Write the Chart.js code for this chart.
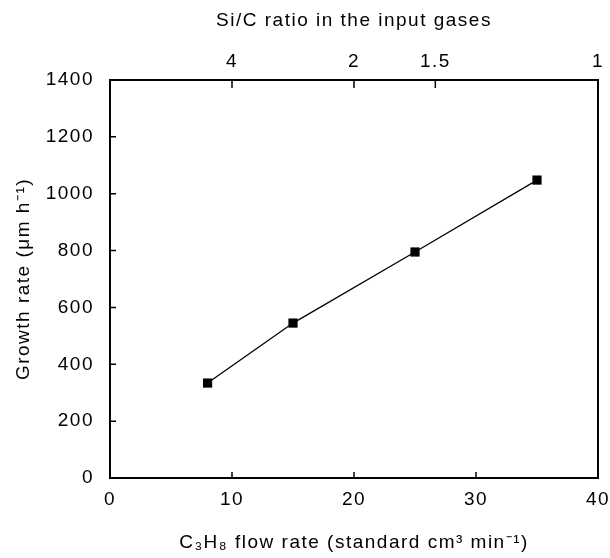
<!DOCTYPE html>
<html>
<head>
<meta charset="utf-8">
<script src="https://cdn.jsdelivr.net/npm/chart.js@4"></script>
<style>
  html, body { margin: 0; padding: 0; background: #fff; }
  #wrap { width: 610px; height: 558px; }
</style>
</head>
<body>
<div id="wrap"><canvas id="growthChart" width="610" height="558"></canvas></div>
<script>
// C3H8 flow rate (sccm) vs growth rate (um/h)
const flowRates = [8, 15, 25, 35];
const growthRates = [334, 545, 795, 1048];

// axis ticks
const flowTicks = [0, 10, 20, 30, 40];
const growthTicks = [0, 200, 400, 600, 800, 1000, 1200, 1400];
// Si/C ratio labels on the top axis (ratio = 40 / flow)
const siCRatios = [4, 2, 1.5, 1];

const FONT = "'Liberation Sans', Arial, sans-serif";
const FONT_SIZE = 19;

// wider glyph spacing, like the printed figure
const spacing = {
  id: "spacing",
  beforeDraw(chart) {
    chart.ctx.letterSpacing = "1.5px";
  },
};

// draw the frame and inward tick marks
const frameTicks = {
  id: "frameTicks",
  afterDraw(chart) {
    const { ctx, chartArea: a, scales } = chart;
    ctx.save();
    ctx.strokeStyle = "#000";
    ctx.lineWidth = 2;
    ctx.strokeRect(a.left, a.top, a.right - a.left, a.bottom - a.top);
    ctx.lineWidth = 1.5;
    ctx.beginPath();
    scales.x.ticks.forEach((t) => {
      const px = scales.x.getPixelForValue(t.value);
      ctx.moveTo(px, a.bottom);
      ctx.lineTo(px, a.bottom - 6);
    });
    scales.x2.ticks.forEach((t) => {
      const px = scales.x2.getPixelForValue(t.value);
      ctx.moveTo(px, a.top);
      ctx.lineTo(px, a.top + 8);
    });
    scales.y.ticks.forEach((t) => {
      const py = scales.y.getPixelForValue(t.value);
      ctx.moveTo(a.left, py);
      ctx.lineTo(a.left + 6, py);
    });
    ctx.stroke();
    ctx.restore();
  },
};

const font = { family: FONT, size: FONT_SIZE };

// fixed axis box sizes, no extra room for overhanging labels
function fitX(s) {
  s.height = 80;
  s.paddingLeft = 0;
  s.paddingRight = 0;
}

new Chart(document.getElementById("growthChart"), {
  type: "scatter",
  data: {
    datasets: [
      {
        data: flowRates.map((x, i) => ({ x, y: growthRates[i] })),
        showLine: true,
        borderColor: "#000",
        borderWidth: 1.3,
        backgroundColor: "#000",
        pointStyle: "rect",
        pointRadius: 6.5,
        pointBorderWidth: 0,
      },
    ],
  },
  options: {
    responsive: false,
    animation: false,
    layout: { padding: { top: 0, right: 12, bottom: 0, left: 0 } },
    plugins: { legend: { display: false }, tooltip: { enabled: false } },
    scales: {
      x: {
        type: "linear",
        position: "bottom",
        min: 0,
        max: 40,
        afterBuildTicks: (s) => { s.ticks = flowTicks.map((v) => ({ value: v })); },
        afterFit: fitX,
        grid: { display: false, drawTicks: false },
        border: { display: false },
        ticks: { color: "#000", font, padding: 10, maxRotation: 0 },
        title: {
          display: true,
          text: "C\u2083H\u2088 flow rate (standard cm\u00b3 min\u207b\u00b9)",
          color: "#000",
          font,
          padding: { top: 10, bottom: 4 },
        },
      },
      x2: {
        type: "linear",
        position: "top",
        min: 0,
        max: 40,
        afterBuildTicks: (s) => { s.ticks = siCRatios.map((r) => ({ value: 40 / r })); },
        afterFit: fitX,
        grid: { display: false, drawTicks: false },
        border: { display: false },
        ticks: {
          color: "#000",
          font,
          padding: 7,
          maxRotation: 0,
          callback: (v, i) => String(siCRatios[i]),
        },
        title: {
          display: true,
          text: "Si/C ratio in the input gases",
          color: "#000",
          font,
          padding: { top: 9, bottom: 4 },
        },
      },
      y: {
        type: "linear",
        min: 0,
        max: 1400,
        afterBuildTicks: (s) => { s.ticks = growthTicks.map((v) => ({ value: v })); },
        afterFit: (s) => { s.width = 110; },
        grid: { display: false, drawTicks: false },
        border: { display: false },
        ticks: { color: "#000", font, padding: 16, callback: (v) => String(v) },
        title: {
          display: true,
          text: "Growth rate (\u03bcm h\u207b\u00b9)",
          color: "#000",
          font,
          padding: { top: 12, bottom: 4 },
        },
      },
    },
  },
  plugins: [spacing, frameTicks],
});
</script>
</body>
</html>
